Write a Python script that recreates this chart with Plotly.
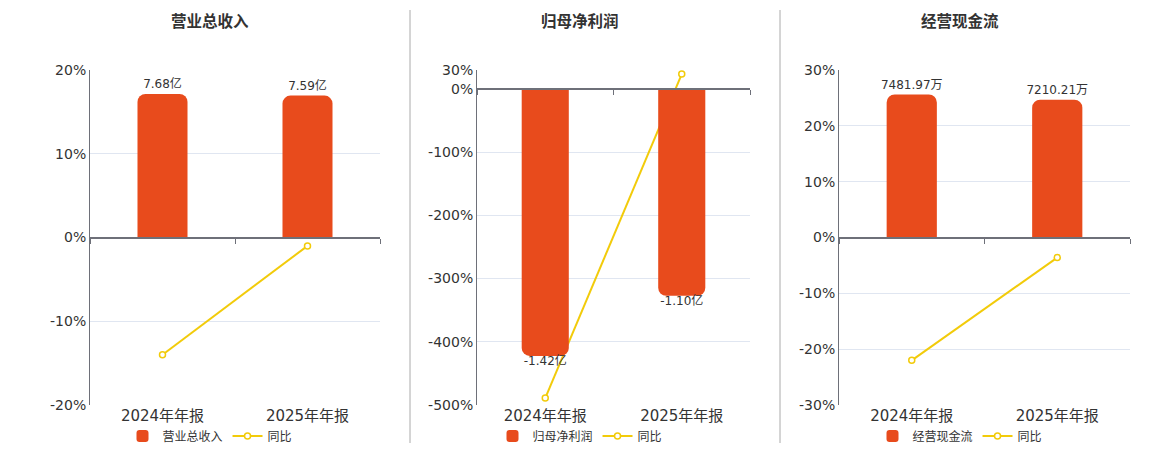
import plotly.graph_objects as go

# ---------------- data ----------------
categories = ["2024年年报", "2025年年报"]

titles = ["营业总收入", "归母净利润", "经营现金流"]

revenue_values = [7.68, 7.59]            # 亿
revenue_labels = ["7.68亿", "7.59亿"]
revenue_yoy = [-14.0, -1.0]              # %

profit_values = [-1.42, -1.10]           # 亿
profit_labels = ["-1.42亿", "-1.10亿"]
profit_yoy = [-489.0, 23.5]              # %

cash_values = [7481.97, 7210.21]         # 万
cash_labels = ["7481.97万", "7210.21万"]
cash_yoy = [-22.0, -3.6]                 # %

pct_ticks_1 = [20, 10, 0, -10, -20]
pct_ticks_2 = [30, 0, -100, -200, -300, -400, -500]
pct_ticks_3 = [30, 20, 10, 0, -10, -20, -30]

# ---------------- style ----------------
W, H = 1160, 450
BAR_COLOR = "#E84B1C"
LINE_COLOR = "#F2CB0A"
AXIS_COLOR = "#6E7079"
GRID_COLOR = "#E0E6F1"
TEXT_COLOR = "#333333"
FONT = "'DejaVu Sans', 'Noto Sans CJK SC', sans-serif"

def px_x(p):
    return p / W

def px_y(p):
    return 1 - p / H

panels = [
    dict(x0=90, x1=380, center=210, vals=revenue_values, labels=revenue_labels,
         yoy=revenue_yoy, pct_range=[-20, 20], ticks=pct_ticks_1, bar_range=[-8.96, 8.96]),
    dict(x0=477, x1=750, center=580, vals=profit_values, labels=profit_labels,
         yoy=profit_yoy, pct_range=[-500, 30], ticks=pct_ticks_2, bar_range=[-1.681, 0.101]),
    dict(x0=839, x1=1130, center=960, vals=cash_values, labels=cash_labels,
         yoy=cash_yoy, pct_range=[-30, 30], ticks=pct_ticks_3, bar_range=[-8760, 8760]),
]

plot_top, plot_bottom = 70, 405
ydom = [px_y(plot_bottom), px_y(plot_top)]

fig = go.Figure()
layout = dict(
    template="none",
    width=W, height=H,
    margin=dict(l=0, r=0, t=0, b=0, autoexpand=False),
    paper_bgcolor="white", plot_bgcolor="white",
    font=dict(family=FONT, color=TEXT_COLOR, size=12),
    showlegend=True,
    barmode="overlay",
    annotations=[], shapes=[],
)

for i, p in enumerate(panels):
    xn = i + 1
    xk = "x" if xn == 1 else f"x{xn}"
    xo = f"x{xn + 3}"
    yp = 2 * i + 1
    yb = 2 * i + 2
    ypk = "y" if yp == 1 else f"y{yp}"
    ybk = f"y{yb}"
    leg = "legend" if i == 0 else f"legend{i + 1}"

    # bars
    fig.add_trace(go.Bar(
        x=categories, y=p["vals"], name=titles[i],
        xaxis=xk, yaxis=ybk, width=0.345,
        marker=dict(color=BAR_COLOR, cornerradius=8, line=dict(width=0)),
        legend=leg, hoverinfo="x+y",
    ))
    # bar value labels
    fig.add_trace(go.Scatter(
        x=categories, y=p["vals"], mode="markers+text", text=p["labels"],
        marker=dict(size=[3 if v >= 0 else 0 for v in p["vals"]], opacity=0),
        textposition=["top center" if v >= 0 else "bottom center" for v in p["vals"]],
        textfont=dict(family=FONT, size=12, color=TEXT_COLOR),
        xaxis=xk, yaxis=ybk, showlegend=False, hoverinfo="skip", cliponaxis=False,
    ))
    # yoy line
    fig.add_trace(go.Scatter(
        x=categories, y=p["yoy"], name="同比", mode="lines+markers",
        xaxis=xk, yaxis=ypk,
        line=dict(color=LINE_COLOR, width=2),
        marker=dict(symbol="circle", size=6, color="white",
                    line=dict(color=LINE_COLOR, width=1.5)),
        cliponaxis=False,
        legend=leg,
    ))
    # helper trace for zero-line axis
    fig.add_trace(go.Scatter(x=[None], y=[None], xaxis=xo, yaxis=ypk,
                             showlegend=False, hoverinfo="skip"))

    dom = [px_x(p["x0"]), px_x(p["x1"])]
    lo, hi = p["pct_range"]
    zero_pos = ydom[0] + (ydom[1] - ydom[0]) * (0 - lo) / (hi - lo)

    layout["xaxis" if xn == 1 else f"xaxis{xn}"] = dict(
        domain=dom, anchor=ypk, type="category", categoryarray=categories,
        showline=False, showgrid=False, ticks="", zeroline=False, automargin=False,
        tickfont=dict(family=FONT, size=15, color=TEXT_COLOR), fixedrange=True,
    )
    layout[f"xaxis{xn + 3}"] = dict(
        overlaying=xk, anchor="free", position=zero_pos, range=[-0.5, 1.5],
        tickmode="array", tickvals=[-0.5, 0.5, 1.5], ticks="outside", ticklen=5,
        tickcolor=AXIS_COLOR, tickwidth=1, automargin=False,
        showline=True, linecolor=AXIS_COLOR, linewidth=2,
        showticklabels=False, showgrid=False, zeroline=False,
    )
    layout["yaxis" if yp == 1 else f"yaxis{yp}"] = dict(
        domain=ydom, anchor=xk, range=p["pct_range"],
        tickmode="array", tickvals=p["ticks"], ticktext=[f"{v}%" for v in p["ticks"]],
        showline=True, linecolor=AXIS_COLOR, linewidth=1, automargin=False,
        showgrid=True, gridcolor=GRID_COLOR, gridwidth=1, zeroline=False,
        tickfont=dict(family=FONT, size=14, color=TEXT_COLOR), ticks="",
    )
    layout[f"yaxis{yb}"] = dict(
        overlaying=ypk, anchor=xk, side="right", range=p["bar_range"],
        visible=False, showgrid=False, zeroline=False, automargin=False,
    )
    layout[leg] = dict(
        orientation="h", x=px_x(p["center"]), y=px_y(436),
        xanchor="center", yanchor="middle",
        font=dict(family=FONT, size=12, color=TEXT_COLOR), bgcolor="rgba(0,0,0,0)",
        itemwidth=30, tracegroupgap=0,
    )
    layout["annotations"].append(dict(
        text=f"<b>{titles[i]}</b>", x=px_x(p["center"]), y=px_y(22),
        xref="paper", yref="paper", xanchor="center", yanchor="middle",
        showarrow=False, font=dict(family=FONT, size=15.5, color=TEXT_COLOR),
    ))

for sx in [410, 780]:
    layout["shapes"].append(dict(
        type="line", xref="paper", yref="paper",
        x0=px_x(sx), x1=px_x(sx), y0=px_y(443), y1=px_y(10),
        line=dict(color="#AAAAAA", width=1),
    ))

fig.update_layout(**layout)
fig.write_html("out.html", config={"displayModeBar": False},
               post_script="document.body.style.margin='0';")
